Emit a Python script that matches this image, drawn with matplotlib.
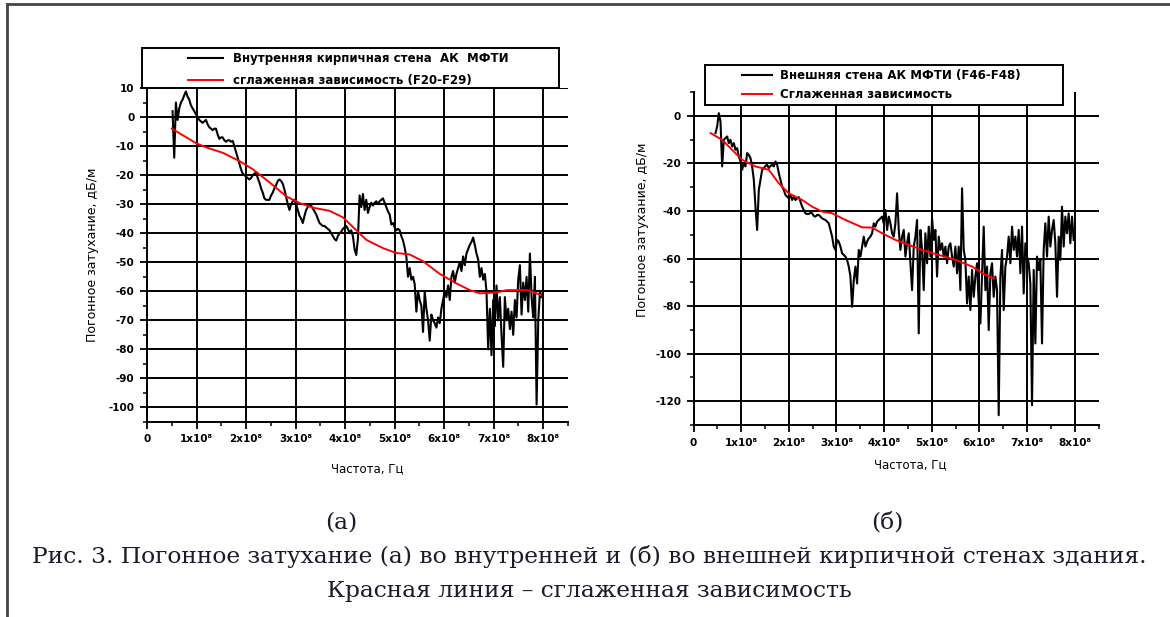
import numpy as np
import matplotlib
matplotlib.use('Agg')
import matplotlib.pyplot as plt
from matplotlib.patches import Rectangle
from matplotlib.lines import Line2D

plt.rcParams['axes.unicode_minus'] = False

# ---------------- data ----------------
# x tick positions (Hz) and labels
x_ticks = [0, 1e8, 2e8, 3e8, 4e8, 5e8, 6e8, 7e8, 8e8]
x_tick_labels = ["0", "1x10⁸", "2x10⁸", "3x10⁸", "4x10⁸", "5x10⁸", "6x10⁸", "7x10⁸", "8x10⁸"]

# (a) inner brick wall: measured attenuation, dB/m (frequency sweep 0.516e8 .. 7.967e8 Hz)
inner_f_start, inner_f_stop = 0.516e8, 7.967e8
inner_att = [
    2, -14, 5, -1, 3, 5, 6, 7.5, 8.8, 7,
    6, 4, 3, 2, 1, 0, -1, -1.5, -2, -1.5,
    -1, -2.5, -3.5, -4, -4.5, -4, -4, -6, -7.5, -7,
    -7, -8, -8.5, -8, -8, -8.5, -8.2, -10, -12, -14,
    -16, -18, -19.5, -20, -20.5, -21, -21.5, -21, -20, -19.5,
    -19, -21, -22.5, -24.5, -26, -28, -28.5, -28.5, -28.5, -27,
    -26, -24.5, -23.5, -22, -21.5, -22, -23, -25, -27.5, -30,
    -32, -30, -29, -28.5, -30, -32, -34, -35, -36.5, -34,
    -32, -31, -30, -30.5, -31.5, -32.5, -33.5, -35, -36.5, -37,
    -37.5, -37.5, -38, -38.5, -39, -40, -41, -42, -42.5, -41,
    -40, -39.5, -38.5, -38, -37.5, -38.5, -40, -39, -41, -45.5,
    -47.5, -42, -27, -31, -26.5, -32, -28.5, -33, -31, -29.5,
    -30.5, -29.5, -29, -30, -29, -28.5, -28, -29.5, -31, -32.5,
    -33.5, -37, -36.5, -38, -39, -38.5, -39, -41, -42.5, -45,
    -48, -55, -52, -56, -55, -57.5, -67, -60, -63, -65,
    -74, -60, -66, -70, -77, -68, -70, -71, -72.5, -69,
    -71, -66, -63, -60, -62, -58, -63, -55, -53, -57,
    -54, -52, -50, -53, -48, -51, -47, -45.5, -44, -43,
    -41.5, -44, -47, -49, -55, -52, -56, -54, -60, -80,
    -66, -82, -63, -72, -58, -70, -62, -75, -86, -62,
    -70, -66, -73, -67, -75, -63, -69, -56, -51, -68,
    -57, -63, -55, -67, -47, -62, -69, -55, -99, -70,
    -60, -62,
]
# (a) smoothed dependence
inner_smooth_f = [0.50e8, 0.99e8, 1.19e8, 1.53e8, 1.86e8, 2.13e8, 2.34e8, 2.54e8, 2.81e8,
                  3.08e8, 3.35e8, 3.69e8, 3.96e8, 4.16e8, 4.43e8, 4.76e8, 5.03e8, 5.30e8,
                  5.57e8, 5.91e8, 6.25e8, 6.52e8, 6.72e8, 7.06e8, 7.26e8, 7.66e8, 7.80e8, 7.96e8]
inner_smooth = [-4, -9, -10.4, -12.3, -15.1, -17.9, -20.7, -23.4, -27.3,
                -29.6, -31.2, -32.3, -34.6, -37.9, -42.3, -45.1, -46.8, -47.3,
                -49.6, -54, -57.3, -59.6, -60.7, -60.4, -59.6, -59.6, -60.2, -61.4]

# (b) outer wall: measured attenuation, dB/m (frequency sweep 0.4615e8 .. 7.979e8 Hz)
outer_f_start, outer_f_stop = 0.4615e8, 7.979e8
outer_att = [
    -7.3, -4.5, 1.1, -2.4, -21.3, -10.1, -9.4, -8.7, -11.5, -10.1,
    -12.9, -11.5, -14.3, -13.6, -17.1, -19.2, -22.7, -19.9, -21.3, -15.7,
    -16.4, -17.8, -21.3, -26.9, -38.2, -48.0, -31.2, -26.9, -22.7, -22.0,
    -21.1, -20.6, -22.0, -21.1, -20.6, -21.3, -19.2, -20.6, -24.1, -26.9,
    -29.8, -31.2, -33.3, -34.0, -34.7, -33.3, -35.4, -34.0, -35.4, -34.7,
    -34.2, -36.1, -38.2, -39.6, -41.0, -41.3, -41.3, -40.7, -41.0, -42.1,
    -42.4, -41.7, -41.7, -42.4, -43.1, -43.5, -43.8, -44.5, -45.2, -48.0,
    -50.8, -55.0, -56.4, -52.2, -52.9, -55.0, -57.8, -58.5, -59.2, -60.6,
    -63.4, -67.6, -80.3, -69.1, -63.4, -70.5, -56.4, -59.2, -55.0, -50.8,
    -55.0, -52.9, -51.5, -50.8, -49.4, -45.2, -46.6, -44.5, -43.8, -43.1,
    -42.4, -45.2, -39.6, -48.0, -42.4, -45.2, -49.4, -50.8, -45.2, -32.6,
    -48.0, -56.4, -50.8, -48.0, -59.2, -53.6, -49.4, -62.0, -73.3, -55.0,
    -50.8, -43.8, -91.5, -48.0, -56.4, -73.3, -49.4, -62.0, -46.6, -59.2,
    -43.1, -52.2, -48.0, -67.6, -50.8, -56.4, -53.6, -59.2, -55.0, -62.0,
    -55.0, -53.6, -59.2, -63.4, -55.0, -66.2, -55.0, -73.3, -30.5, -56.4,
    -60.6, -78.9, -67.6, -81.7, -64.8, -76.1, -67.6, -62.0, -78.9, -87.3,
    -67.6, -46.6, -73.3, -63.4, -90.1, -66.2, -62.0, -76.1, -67.6, -73.3,
    -125.9, -67.6, -56.4, -81.7, -63.4, -59.2, -50.8, -62.0, -46.6, -56.4,
    -50.8, -59.2, -48.0, -66.2, -46.6, -74.7, -53.6, -59.2, -62.0, -70.5,
    -121.7, -64.8, -95.7, -59.2, -64.8, -60.6, -95.7, -56.4, -45.2, -59.2,
    -42.4, -55.0, -48.0, -43.8, -53.6, -76.1, -50.8, -60.6, -38.2, -55.0,
    -42.4, -49.4, -41.0, -53.6, -42.4, -52.2,
]
outer_smooth_f = [0.36e8, 0.60e8, 0.81e8, 1.02e8, 1.30e8, 1.58e8, 1.79e8, 2.00e8, 2.28e8,
                  2.49e8, 2.70e8, 2.91e8, 3.19e8, 3.54e8, 3.75e8, 3.96e8, 4.24e8, 4.52e8,
                  4.80e8, 5.15e8, 5.50e8, 5.85e8, 6.06e8, 6.30e8]
outer_smooth = [-7.3, -10.1, -14.3, -18.5, -21.3, -22.7, -28.4, -32.6, -35.4,
                -38.2, -40.3, -41.0, -43.8, -46.9, -47.0, -49.4, -52.2, -54.3,
                -56.4, -58.5, -60.6, -63.4, -66.2, -68.4]

inner_f = np.linspace(inner_f_start, inner_f_stop, len(inner_att))
outer_f = np.linspace(outer_f_start, outer_f_stop, len(outer_att))

legend_a = ["Внутренняя кирпичная стена  АК  МФТИ", "сглаженная зависимость (F20-F29)"]
legend_b = ["Внешняя стена АК МФТИ (F46-F48)", "Сглаженная зависимость"]
ylabel = "Погонное затухание, дБ/м"
xlabel = "Частота, Гц"
caption1 = "Рис. 3. Погонное затухание (а) во внутренней и (б) во внешней кирпичной стенах здания."
caption2 = "Красная линия – сглаженная зависимость"

# ---------------- layout ----------------
W, H = 1170, 617
fig = plt.figure(figsize=(W / 100, H / 100), dpi=100)
fig.patch.set_facecolor('white')


def fx(x):
    return x / W


def fy(y):
    return 1 - y / H


axL = fig.add_axes([fx(147), fy(422), (568 - 147) / W, (422 - 88) / H])
axR = fig.add_axes([fx(693.5), fy(425), 405 / W, (425 - 92) / H])


def style(ax, ylim, ymaj, ymin_step):
    ax.set_xlim(0, 8.5e8)
    ax.set_ylim(*ylim)
    ax.set_xticks(x_ticks, labels=x_tick_labels)
    ax.set_xticks(np.arange(0, 8.51e8, 0.5e8), minor=True)
    ax.set_yticks(ymaj, labels=[str(v) for v in ymaj])
    ax.set_yticks(np.arange(ylim[0] - ylim[0] % ymin_step, ylim[1] + 0.1, ymin_step), minor=True)
    ax.grid(True, which='major', color='black', lw=1.4)
    for s in ['top', 'right']:
        ax.spines[s].set_visible(False)
    for s in ['left', 'bottom']:
        ax.spines[s].set_linewidth(1.4)
    ax.tick_params(which='major', direction='out', length=5, width=1.3, labelsize=7.5, pad=4)
    ax.tick_params(which='minor', direction='out', length=3, width=1.1)
    for lab in ax.get_xticklabels() + ax.get_yticklabels():
        lab.set_fontweight('bold')


style(axL, (-101.3, 10), list(range(10, -101, -10)), 5)
style(axR, (-130, 10), list(range(0, -121, -20)), 10)

lb1, = axL.plot(inner_f, inner_att, color='black', lw=1.5)
lr1, = axL.plot(inner_smooth_f, inner_smooth, color='#ff0000', lw=1.4)
lb2, = axR.plot(outer_f, outer_att, color='black', lw=1.5)
lr2, = axR.plot(outer_smooth_f, outer_smooth, color='#ff0000', lw=1.4)

for ax, xc, yl in [(axL, (0.523, -0.12), (-0.113, 0.5)), (axR, (0.535, -0.10), (-0.11, 0.586))]:
    ax.set_xlabel(xlabel, fontsize=8.5)
    ax.set_ylabel(ylabel, fontsize=9)
    ax.xaxis.set_label_coords(*xc)
    ax.yaxis.set_label_coords(*yl)

# legend boxes
fig.add_artist(Rectangle((fx(142), fy(88)), (559 - 142) / W, 40 / H, transform=fig.transFigure,
                         facecolor='white', edgecolor='black', lw=1.4, zorder=3))
fig.add_artist(Rectangle((fx(705), fy(105)), (1063 - 705) / W, 40 / H, transform=fig.transFigure,
                         facecolor='white', edgecolor='black', lw=1.4, zorder=3))

legA = fig.legend([lb1, lr1], legend_a, loc='upper left', bbox_to_anchor=(fx(188), fy(52)),
                  frameon=False, borderpad=0, borderaxespad=0, handlelength=3.0,
                  handletextpad=0.85, labelspacing=0.8,
                  prop={'size': 8.5, 'weight': 'bold'})
legA.set_zorder(5)
legB = fig.legend([lb2, lr2], legend_b, loc='upper left', bbox_to_anchor=(fx(742), fy(69)),
                  frameon=False, borderpad=0, borderaxespad=0, handlelength=2.55,
                  handletextpad=0.65, labelspacing=0.5,
                  prop={'size': 8.5, 'weight': 'bold'})
legB.set_zorder(5)

# page frame
fig.add_artist(Line2D([fx(7), fx(1170)], [fy(4), fy(4)], transform=fig.transFigure, color='#444444', lw=2))
fig.add_artist(Line2D([fx(7), fx(7)], [fy(4), fy(617)], transform=fig.transFigure, color='#444444', lw=2))

# captions
cap_kw = dict(family='DejaVu Serif', fontsize=16.8, color='#1a1a2a', ha='center', va='center')
fig.text(fx(341), fy(523), "(а)", **cap_kw)
fig.text(fx(887), fy(523), "(б)", **cap_kw)
fig.text(fx(589), fy(556), caption1, **cap_kw)
fig.text(fx(589), fy(591), caption2, **cap_kw)

fig.savefig('out.png', dpi=100)
